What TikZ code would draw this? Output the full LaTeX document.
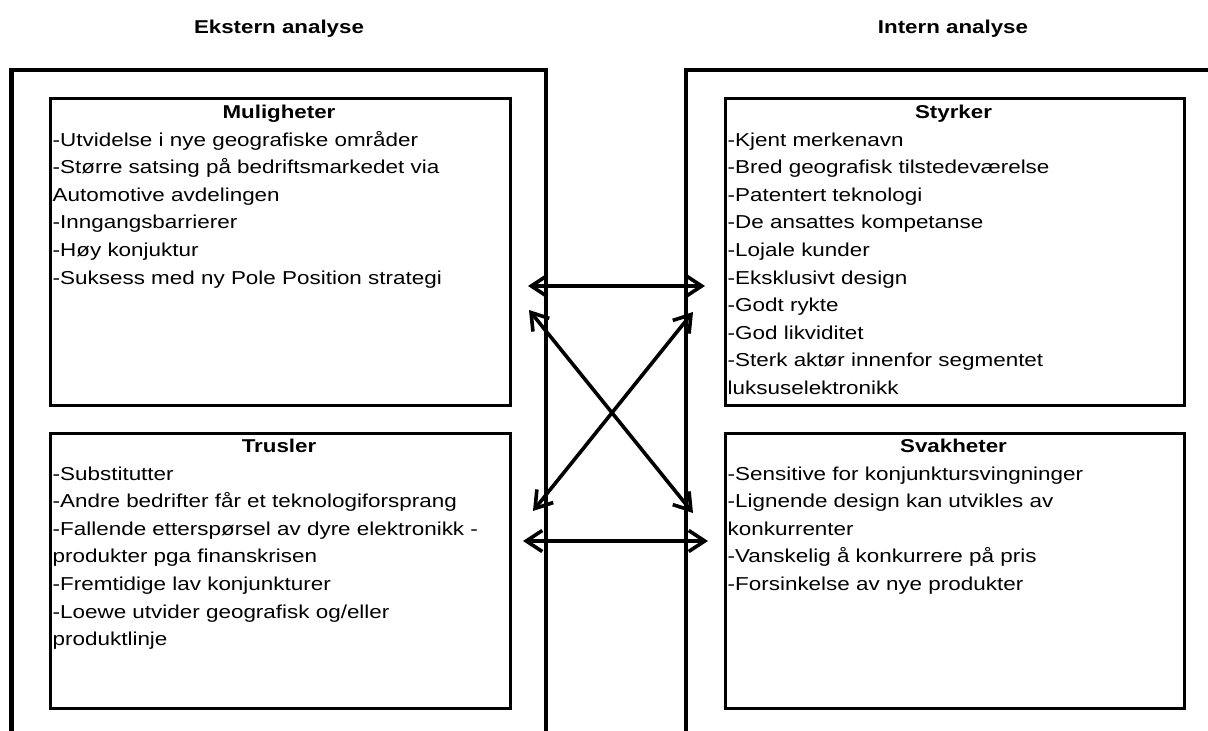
\documentclass[tikz,border=0pt]{standalone}
\usepackage{fontspec}
\setmainfont{Liberation Sans}[FakeStretch=1.2]
\usetikzlibrary{arrows.meta}
% a left-aligned block of lines whose baseline is that of its first line
\newcommand\itemlines[1]{\begin{tabular}[t]{@{}l@{}}#1\end{tabular}}

\begin{document}
\begin{tikzpicture}[x=1pt,y=-1pt,
  frame/.style={line width=4.7pt, line join=miter},
  panel/.style={draw, line width=3pt, rectangle, inner sep=0pt, anchor=north west},
  heading/.style={font=\fontsize{18.6}{27.5}\selectfont\bfseries, anchor=base, inner sep=0pt},
  items/.style={font=\fontsize{18.7}{27.6}\selectfont, anchor=base west, inner sep=0pt},
  barb/.tip={Straight Barb[length=16pt,width=21pt]},
  link/.style={line width=3.6pt, barb-barb}]
\useasboundingbox (0,0) rectangle (1208,731);

% column headings
\node[heading] (ext) at (279,33) {Ekstern analyse};
\node[heading] (int) at (953,33) {Intern analyse};

% outer frames
\draw[frame] (11.5,740) -- (11.5,70) -- (546,70) -- (546,740);
\draw[frame] (686,740) -- (686,70) -- (1215,70);

% SWOT panels
\node[panel, minimum width=460pt, minimum height=307pt] (mul) at (49,97) {};
\node[panel, minimum width=459pt, minimum height=307pt] (sty) at (724,97) {};
\node[panel, minimum width=460pt, minimum height=275pt] (tru) at (49,432) {};
\node[panel, minimum width=459pt, minimum height=275pt] (sva) at (724,432) {};

\node[heading] (mulh) at (279,118) {Muligheter};
\node[items] (mult) at (52.5,146) {\itemlines{-Utvidelse i nye geografiske områder\\
-Større satsing på bedriftsmarkedet via\\
Automotive avdelingen\\
-Inngangsbarrierer\\
-Høy konjuktur\\
-Suksess med ny Pole Position strategi}};

\node[heading] (styh) at (953.5,118) {Styrker};
\node[items] (styt) at (727.5,146) {\itemlines{-Kjent merkenavn\\
-Bred geografisk tilstedeværelse\\
-Patentert teknologi\\
-De ansattes kompetanse\\
-Lojale kunder\\
-Eksklusivt design\\
-Godt rykte\\
-God likviditet\\
-Sterk aktør innenfor segmentet\\
luksuselektronikk}};

\node[heading] (truh) at (279,452) {Trusler};
\node[items] (trut) at (52.5,480) {\itemlines{-Substitutter\\
-Andre bedrifter får et teknologiforsprang\\
-Fallende etterspørsel av dyre elektronikk -\\
produkter pga finanskrisen\\
-Fremtidige lav konjunkturer\\
-Loewe utvider geografisk og/eller\\
produktlinje}};

\node[heading] (svah) at (953.5,452) {Svakheter};
\node[items] (svat) at (727.5,480) {\itemlines{-Sensitive for konjunktursvingninger\\
-Lignende design kan utvikles av\\
konkurrenter\\
-Vanskelig å konkurrere på pris\\
-Forsinkelse av nye produkter}};

% arrow end points between the columns
\coordinate (o1) at (528,286);
\coordinate (s1) at (705,286);
\coordinate (t1) at (523,541);
\coordinate (w1) at (708,541);
\coordinate (o2) at (529,310);
\coordinate (w2) at (693,513);
\coordinate (t2) at (533,511);
\coordinate (s2) at (693,312);

\draw[link] (o1) -- (s1);
\draw[link] (t1) -- (w1);
\draw[link] (o2) -- (w2);
\draw[link] (t2) -- (s2);
\end{tikzpicture}
\end{document}
